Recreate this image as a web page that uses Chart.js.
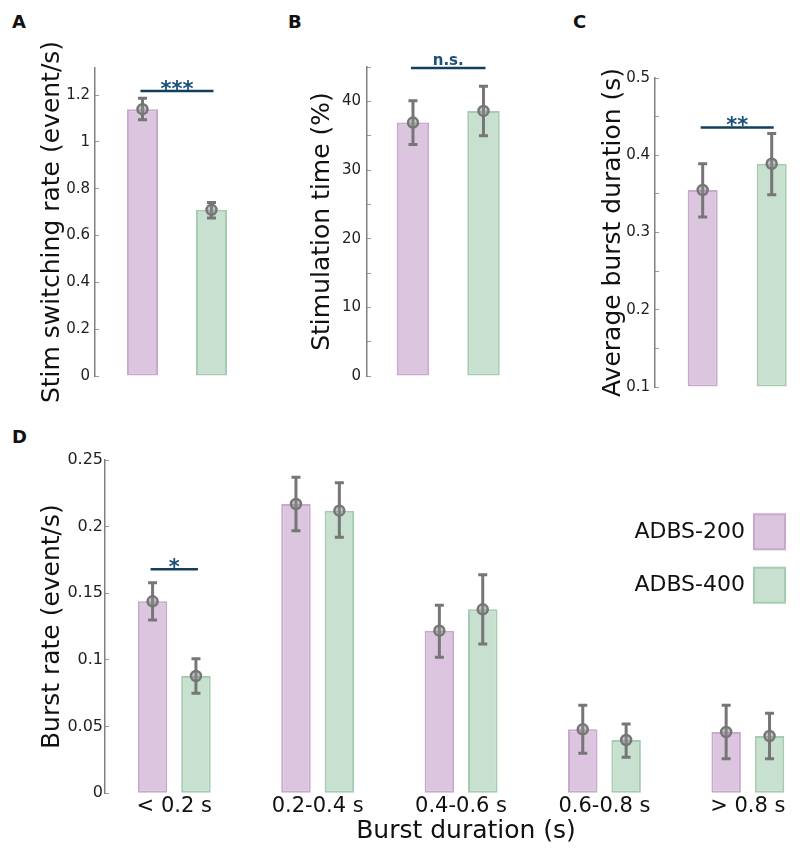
<!DOCTYPE html>
<html>
<head>
<meta charset="utf-8">
<title>ADBS-200 vs ADBS-400</title>
<script src="https://cdn.jsdelivr.net/npm/chart.js@4.4.1/dist/chart.umd.min.js"></script>
<style>
  html, body { margin: 0; padding: 0; background: #fff; overflow: hidden; }
  #fig { position: relative; width: 800px; height: 858px; overflow: hidden; }
  #fig canvas { position: absolute; }
  .tag { position: absolute; font: bold 18px 'DejaVu Sans', sans-serif; line-height: 18px; color: #111; }
</style>
</head>
<body>
<div id="fig">
  <div class="tag" style="left:12px;top:13px">A</div>
  <div class="tag" style="left:288px;top:13px">B</div>
  <div class="tag" style="left:573px;top:13px">C</div>
  <div class="tag" style="left:12px;top:428px">D</div>
  <canvas id="chartA" width="262" height="410" style="left:0;top:0"></canvas>
  <canvas id="chartB" width="270" height="410" style="left:260px;top:0"></canvas>
  <canvas id="chartC" width="270" height="410" style="left:530px;top:0"></canvas>
  <canvas id="chartD" width="827" height="428" style="left:0;top:430px"></canvas>
</div>
<script>
// groups
const groups = ['ADBS-200', 'ADBS-400'];

// A - stim switching rate (event/s), mean and error range
const switchRate = [1.14, 0.71];
const switchRateLow = [1.095, 0.675];
const switchRateHigh = [1.187, 0.741];

// B - stimulation time (%)
const stimTime = [36.9, 38.6];
const stimTimeLow = [33.7, 35.0];
const stimTimeHigh = [40.1, 42.2];

// C - average burst duration (s)
const burstDur = [0.355, 0.389];
const burstDurLow = [0.320, 0.349];
const burstDurHigh = [0.389, 0.428];

// D - burst rate per duration bin (event/s)
const durBins = ['< 0.2 s', '0.2-0.4 s', '0.4-0.6 s', '0.6-0.8 s', '> 0.8 s'];
const rate200 = [0.144, 0.217, 0.122, 0.048, 0.046];
const rate200Low = [0.130, 0.197, 0.102, 0.030, 0.026];
const rate200High = [0.158, 0.237, 0.141, 0.066, 0.066];
const rate400 = [0.088, 0.212, 0.138, 0.040, 0.043];
const rate400Low = [0.075, 0.192, 0.112, 0.027, 0.026];
const rate400High = [0.101, 0.233, 0.164, 0.052, 0.060];

// significance marks (text, level of the bracket)
const sigText = ['***', 'n.s.', '**', '*'];
const sigLevel = [1.218, 44.85, 0.436, 0.168];

const PURPLE = '#dcc6df', PURPLE_EDGE = '#c9a8cd';
const GREEN = '#c8e0cf', GREEN_EDGE = '#a5cbb1';
const GREY = '#767676';
const NAVY = '#123f5e', NAVY_TEXT = '#1b5079';

Chart.defaults.font.family = "'DejaVu Sans', sans-serif";
Chart.defaults.color = '#1a1a1a';

// error bars + open circle markers, drawn on top of the bars
const errorBars = {
  id: 'errorBars',
  afterDatasetsDraw(chart) {
    const { ctx, scales: { y } } = chart;
    ctx.save();
    chart.data.datasets.forEach((ds, di) => {
      if (!ds.low) return;
      chart.getDatasetMeta(di).data.forEach((bar, i) => {
        const x = bar.x;
        const lo = y.getPixelForValue(ds.low[i]);
        const hi = y.getPixelForValue(ds.high[i]);
        const mid = y.getPixelForValue(ds.data[i].y);
        ctx.strokeStyle = GREY;
        ctx.lineWidth = 3;
        ctx.beginPath();
        ctx.moveTo(x, lo); ctx.lineTo(x, hi);
        ctx.moveTo(x - 4.5, lo); ctx.lineTo(x + 4.5, lo);
        ctx.moveTo(x - 4.5, hi); ctx.lineTo(x + 4.5, hi);
        ctx.stroke();
        ctx.beginPath();
        ctx.arc(x, mid, 5, 0, Math.PI * 2);
        ctx.fillStyle = 'rgba(140,140,140,0.5)';
        ctx.fill();
        ctx.lineWidth = 2.5;
        ctx.stroke();
      });
    });
    ctx.restore();
  }
};

// significance bracket between two bars
const sigBar = {
  id: 'sigBar',
  afterDraw(chart, args, opts) {
    if (!opts.text) return;
    const { ctx, scales: { y } } = chart;
    const a = chart.getDatasetMeta(opts.from[0]).data[opts.from[1]];
    const b = chart.getDatasetMeta(opts.to[0]).data[opts.to[1]];
    const py = y.getPixelForValue(opts.value);
    ctx.save();
    ctx.strokeStyle = NAVY;
    ctx.lineWidth = 2.5;
    ctx.beginPath();
    ctx.moveTo(a.x - 2, py);
    ctx.lineTo(b.x + 2, py);
    ctx.stroke();
    ctx.fillStyle = NAVY_TEXT;
    ctx.font = opts.font;
    ctx.textAlign = 'center';
    ctx.textBaseline = 'alphabetic';
    ctx.fillText(opts.text, (a.x + b.x) / 2, py + opts.lift);
    ctx.restore();
  }
};

// legend with the swatch on the right of the label
const boxLegend = {
  id: 'boxLegend',
  afterDraw(chart, args, opts) {
    if (!opts.show) return;
    const { ctx } = chart;
    ctx.save();
    ctx.font = "22px 'DejaVu Sans'";
    ctx.textAlign = 'right';
    ctx.textBaseline = 'middle';
    chart.data.datasets.forEach((ds, i) => {
      const top = opts.top + i * opts.step;
      ctx.fillStyle = ds.backgroundColor;
      ctx.fillRect(opts.x, top, 31, 35);
      ctx.strokeStyle = ds.borderColor;
      ctx.lineWidth = 2;
      ctx.strokeRect(opts.x, top, 31, 35);
      ctx.fillStyle = '#111';
      ctx.fillText(ds.label, opts.x - 9, top + 18);
    });
    ctx.restore();
  }
};

const fmt = v => String(+v.toFixed(3));

function yScale(o) {
  return {
    min: o.min, max: o.max,
    border: { color: '#808080', width: 1.5 },
    grid: { drawOnChartArea: false, tickLength: -4, color: '#9a9a9a', lineWidth: 1 },
    ticks: { stepSize: o.step, includeBounds: false, padding: o.tickPad, color: '#222',
             font: { size: o.tickSize }, callback: o.fmt || fmt },
    title: { display: true, text: o.title, color: '#111', font: { size: 25 },
             padding: { top: o.titlePad, bottom: 0 } },
    afterFit: s => { s.width = o.width; }
  };
}

function xScale(o) {
  return {
    type: 'linear', min: o.min, max: o.max, offset: false,
    display: !!o.labels,
    border: { display: false },
    grid: { display: false, drawTicks: false },
    afterBuildTicks: s => { s.ticks = o.count.map((_, i) => ({ value: i + 1 })); },
    ticks: { autoSkip: false, maxRotation: 0, padding: 1, color: '#111', font: { size: 21 },
             callback: v => (o.labels ? o.labels[v - 1] : '') },
    title: { display: !!o.title, text: o.title, color: '#111', font: { size: 25 },
             padding: { top: 0, bottom: 11.3 } },
    afterFit: s => { if (o.height) s.height = o.height; }
  };
}

function pairData(values) {
  return values.map((v, i) => ({ x: i + 1, y: v }));
}

function twoBarPanel(id, o) {
  return new Chart(document.getElementById(id), {
    type: 'bar',
    data: {
      datasets: [{
        label: groups.join(' / '),
        data: pairData(o.values),
        low: o.low, high: o.high,
        backgroundColor: [PURPLE, GREEN],
        borderColor: [PURPLE_EDGE, GREEN_EDGE],
        borderWidth: 2,
        borderSkipped: false,
        base: o.y.min,
        barPercentage: o.barPct,
        categoryPercentage: 1
      }]
    },
    options: {
      responsive: false,
      animation: false,
      events: [],
      layout: { padding: o.pad },
      plugins: {
        legend: { display: false },
        tooltip: { enabled: false },
        sigBar: o.sig,
        boxLegend: { show: false }
      },
      scales: {
        x: xScale({ min: o.xMin, max: o.xMax, count: groups }),
        y: yScale(o.y)
      }
    },
    plugins: [errorBars, sigBar, boxLegend]
  });
}

twoBarPanel('chartA', {
  values: switchRate, low: switchRateLow, high: switchRateHigh,
  xMin: 0.312, xMax: 2.558, barPct: 0.45,
  pad: { top: 68, bottom: 34, left: 0, right: 12 },
  y: { min: 0, max: 1.316, step: 0.2, title: 'Stim switching rate (event/s)', width: 95,
       titlePad: 37, tickPad: 9, tickSize: 15 },
  sig: { text: sigText[0], value: sigLevel[0], from: [0, 0], to: [0, 1],
         font: "bold 21px 'DejaVu Sans'", lift: 5 }
});

twoBarPanel('chartB', {
  values: stimTime, low: stimTimeLow, high: stimTimeHigh,
  xMin: 0.348, xMax: 2.518, barPct: 0.46,
  pad: { top: 67, bottom: 34, left: 0, right: 10 },
  y: { min: 0, max: 45, step: 5, title: 'Stimulation time (%)', width: 107,
       titlePad: 47, tickPad: 10, tickSize: 15,
       fmt: v => (v % 10 === 0 ? String(v) : '') },
  sig: { text: sigText[1], value: sigLevel[1], from: [0, 0], to: [0, 1],
         font: "bold 15px 'DejaVu Sans'", lift: -3.5 }
});

twoBarPanel('chartC', {
  values: burstDur, low: burstDurLow, high: burstDurHigh,
  xMin: 0.309, xMax: 2.41, barPct: 0.435,
  pad: { top: 78, bottom: 23, left: 0, right: 0 },
  y: { min: 0.1, max: 0.5, step: 0.05, title: 'Average burst duration (s)', width: 125,
       titlePad: 68, tickPad: 9, tickSize: 15,
       fmt: v => (Math.abs(v * 10 - Math.round(v * 10)) < 1e-6 ? v.toFixed(1) : '') },
  sig: { text: sigText[2], value: sigLevel[2], from: [0, 0], to: [0, 1],
         font: "bold 21px 'DejaVu Sans'", lift: 5 }
});

new Chart(document.getElementById('chartD'), {
  type: 'bar',
  data: {
    datasets: [
      { label: groups[0], data: pairData(rate200), low: rate200Low, high: rate200High,
        backgroundColor: PURPLE, borderColor: PURPLE_EDGE },
      { label: groups[1], data: pairData(rate400), low: rate400Low, high: rate400High,
        backgroundColor: GREEN, borderColor: GREEN_EDGE }
    ]
  },
  options: {
    responsive: false,
    animation: false,
    events: [],
    layout: { padding: { top: 30, bottom: 0, left: 0, right: 0 } },
    datasets: {
      bar: { borderWidth: 2, borderSkipped: false, categoryPercentage: 0.605, barPercentage: 0.68 }
    },
    plugins: {
      legend: { display: false },
      tooltip: { enabled: false },
      sigBar: { text: sigText[3], value: sigLevel[3], from: [0, 0], to: [1, 0],
                font: "bold 21px 'DejaVu Sans'", lift: 5 },
      boxLegend: { show: true, x: 754, top: 84.3, step: 53.4 }
    },
    scales: {
      x: xScale({ min: 0.517, max: 5.552, count: durBins, labels: durBins,
                  title: 'Burst duration (s)', height: 64.7 }),
      y: yScale({ min: 0, max: 0.25, step: 0.05, title: 'Burst rate (event/s)', width: 105,
                  titlePad: 37.5, tickPad: 6, tickSize: 16 })
    }
  },
  plugins: [errorBars, sigBar, boxLegend]
});
</script>
</body>
</html>
